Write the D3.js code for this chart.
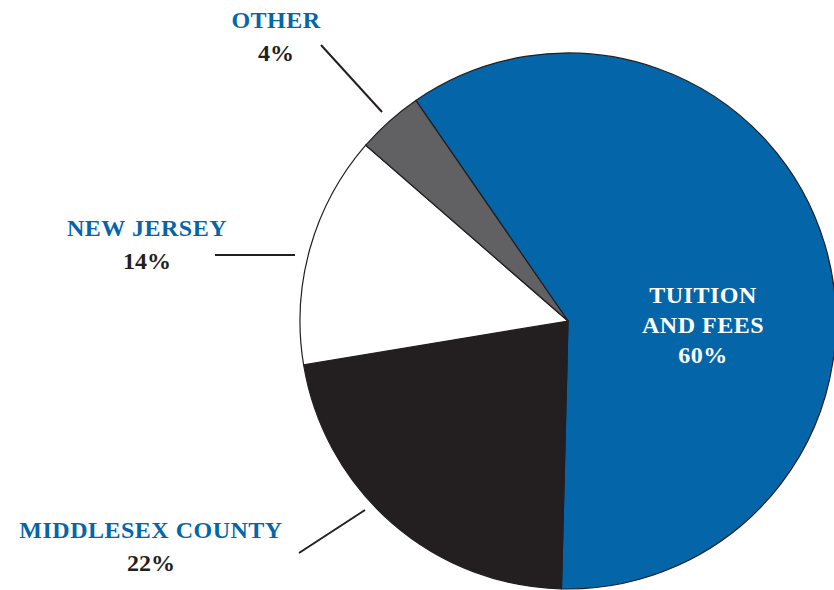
<!DOCTYPE html>
<html>
<head>
<meta charset="utf-8">
<script src="https://cdn.jsdelivr.net/npm/d3@7"></script>
<style>
  body { margin: 0; background: #fff; }
  svg { display: block; }
  text { font-family: "Liberation Serif", "DejaVu Serif", serif; font-weight: bold; }
</style>
</head>
<body>
<svg class="chart"></svg>
<script>
const categories = ["TUITION AND FEES", "MIDDLESEX COUNTY", "NEW JERSEY", "OTHER"];
const values = [60, 22, 14, 4];
const pctLabels = ["60%", "22%", "14%", "4%"];
const colors = ["#0466a8", "#231f20", "#ffffff", "#616163"];

const width = 834;
const height = 590;
const cx = 568, cy = 321, radius = 268;
const startDeg = -34.6;

const svg = d3.select(".chart")
    .attr("width", width)
    .attr("height", height);

const pie = d3.pie()
    .sort(null)
    .value((d) => d)
    .startAngle(startDeg * Math.PI / 180)
    .endAngle(startDeg * Math.PI / 180 + 2 * Math.PI);

const arc = d3.arc().innerRadius(0).outerRadius(radius);

const slices = pie(values);

const g = svg.append("g")
    .attr("transform", `translate(${cx},${cy})`);

g.selectAll("path")
    .data(slices)
    .enter().append("path")
    .attr("d", arc)
    .attr("fill", (d, i) => colors[i])
    .attr("stroke", "#231f20")
    .attr("stroke-width", 1.2);

// outer labels: name line, pct line, leader line
const outer = [
    {i: 3, x: 276, y: 28, line: [[321, 45], [382, 112]]},
    {i: 2, x: 147, y: 236, line: [[215, 255], [295, 255]]},
    {i: 1, x: 151, y: 538, line: [[299, 553], [365, 510]]}
];

outer.forEach((o) => {
    svg.append("text")
        .attr("x", o.x)
        .attr("y", o.y)
        .attr("text-anchor", "middle")
        .attr("font-size", 24)
        .attr("letter-spacing", 0.5)
        .attr("fill", "#0466a8")
        .text(categories[o.i]);
    svg.append("text")
        .attr("x", o.x)
        .attr("y", o.y + 33)
        .attr("text-anchor", "middle")
        .attr("font-size", 24)
        .attr("fill", "#231f20")
        .text(pctLabels[o.i]);
    svg.append("line")
        .attr("x1", o.line[0][0]).attr("y1", o.line[0][1])
        .attr("x2", o.line[1][0]).attr("y2", o.line[1][1])
        .attr("stroke", "#231f20")
        .attr("stroke-width", 2);
});

// tuition label inside the slice
const inner = svg.append("text")
    .attr("text-anchor", "middle")
    .attr("font-size", 24)
    .attr("letter-spacing", 0.5)
    .attr("fill", "#ffffff");
["TUITION", "AND FEES", pctLabels[0]].forEach((t, k) => {
    inner.append("tspan")
        .attr("x", 703)
        .attr("y", 303 + k * 30)
        .text(t);
});
</script>
</body>
</html>
